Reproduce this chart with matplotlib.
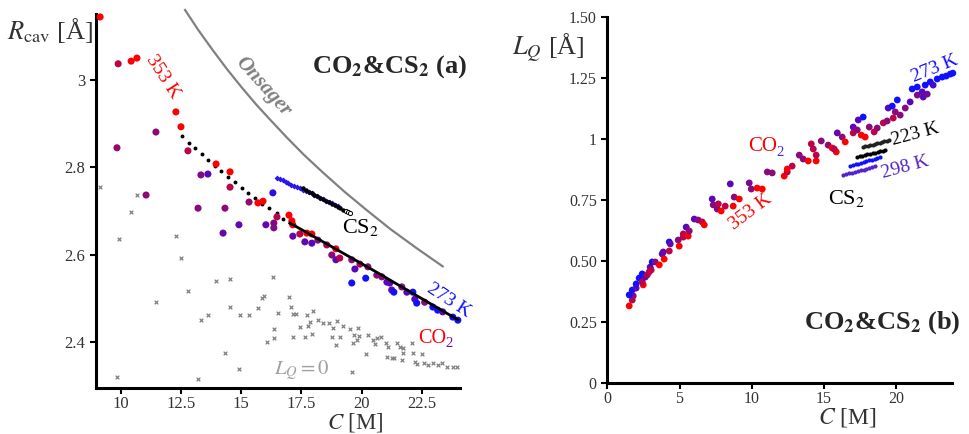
import numpy as np
import matplotlib
matplotlib.use("Agg")
import matplotlib.pyplot as plt
from matplotlib.colors import LinearSegmentedColormap

plt.rcParams['font.family'] = 'serif'
plt.rcParams['font.serif'] = ['Liberation Serif', 'DejaVu Serif']
plt.rcParams['mathtext.fontset'] = 'stix'

# temperature colour scale: 353 K (red) -> 273 K (blue)
temp_cmap = LinearSegmentedColormap.from_list(
    'temp', ['#ff0000', '#c8003c', '#8a0a78', '#5a08b8', '#1010ff'])

# ---- panel (a): cavity radius vs concentration ----
co2_c_a = [9.13, 9.88, 10.42, 10.66, 12.28, 12.49, 11.45, 9.83, 12.78, 13.95, 14.53, 13.32, 13.61,
           14.53, 11.04, 13.20, 14.32, 15.32, 15.69, 15.90, 16.31, 14.24, 14.90, 16.02, 16.35, 16.35,
           16.48, 16.98, 17.10, 17.14, 17.14, 17.43, 17.72, 17.93, 17.64, 17.93, 18.18, 18.55, 18.93,
           18.76, 18.93, 19.09, 19.59, 19.93, 19.72, 20.26, 20.17, 19.59, 20.63, 20.84, 21.05, 21.17,
           21.25, 21.34, 21.67, 21.88, 22.13, 22.21, 22.29, 22.62, 22.96, 23.16, 23.37, 23.79, 24.00]
co2_r_a = [3.144, 3.037, 3.043, 3.050, 2.927, 2.893, 2.881, 2.845, 2.838, 2.808, 2.790, 2.783, 2.785,
           2.755, 2.737, 2.707, 2.707, 2.721, 2.719, 2.723, 2.742, 2.650, 2.669, 2.669, 2.673, 2.662,
           2.687, 2.691, 2.678, 2.669, 2.643, 2.648, 2.650, 2.648, 2.630, 2.627, 2.634, 2.623, 2.614,
           2.600, 2.589, 2.593, 2.589, 2.579, 2.568, 2.573, 2.547, 2.536, 2.554, 2.550, 2.538, 2.536,
           2.520, 2.515, 2.527, 2.515, 2.515, 2.499, 2.490, 2.492, 2.481, 2.474, 2.470, 2.458, 2.451]
co2_t_a = [0, .3, 0, 0, 0, 0, .5, .45, .3, 0, 0, .55, .75, .3, .5, .5, .5, .45, 0, 0, .9, .7, .7, .7,
           .55, .55, .3, 0, .05, 0, .7, .3, 0, 0, .7, .75, .55, .35, 0, .5, .75, .3, .5, .35, .75, .5,
           1, 1, .5, .5, .75, .75, .75, 1, .5, .75, 1, .75, 1, .5, 1, 1, .75, 1, 1]

# points with L_Q = 0
lq0_c = [9.13, 10.66, 10.42, 9.92, 12.28, 12.49, 11.45, 12.78, 13.32, 13.61, 13.95, 14.53, 14.53,
         14.32, 14.90, 13.20, 9.83, 14.94, 15.32, 15.69, 15.86, 15.94, 16.31, 16.52, 16.35, 16.35,
         16.06, 16.98, 17.06, 17.14, 17.27, 17.14, 17.64, 17.43, 17.72, 17.77, 17.85, 17.97, 17.93,
         18.18, 18.39, 18.64, 18.97, 18.80, 19.22, 19.84, 19.51, 19.09, 18.76, 18.93, 19.68, 19.88,
         19.80, 19.63, 20.26, 20.47, 20.63, 20.80, 20.55, 20.17, 21.01, 21.09, 21.05, 21.25, 21.34,
         21.46, 21.59, 21.71, 21.71, 21.67, 22.08, 22.13, 22.50, 22.21, 22.29, 22.58, 22.75, 22.96,
         23.16, 23.33, 23.54, 23.79, 23.98, 19.59]
lq0_r = [2.755, 2.737, 2.698, 2.637, 2.643, 2.593, 2.492, 2.518, 2.451, 2.463, 2.541, 2.545, 2.481,
         2.376, 2.339, 2.316, 2.321, 2.463, 2.463, 2.479, 2.502, 2.506, 2.550, 2.467, 2.431, 2.410,
         2.401, 2.504, 2.481, 2.465, 2.465, 2.412, 2.412, 2.435, 2.463, 2.438, 2.447, 2.472, 2.419,
         2.451, 2.444, 2.444, 2.449, 2.433, 2.438, 2.433, 2.431, 2.412, 2.412, 2.394, 2.417, 2.415,
         2.406, 2.399, 2.417, 2.406, 2.410, 2.412, 2.396, 2.374, 2.399, 2.390, 2.367, 2.364, 2.364,
         2.399, 2.390, 2.387, 2.376, 2.360, 2.399, 2.376, 2.374, 2.355, 2.351, 2.353, 2.348, 2.353,
         2.348, 2.353, 2.344, 2.344, 2.344, 2.333]

# fits through the 353 K and 273 K sets
fit353_c = [12.53, 12.82, 13.07, 13.36, 13.61, 13.90, 14.15, 14.44, 14.73, 15.02, 15.27, 15.56,
            15.86, 16.15, 16.48, 16.73, 17.02]
fit353_r = [2.872, 2.856, 2.845, 2.831, 2.817, 2.803, 2.792, 2.778, 2.767, 2.753, 2.742, 2.730,
            2.717, 2.707, 2.696, 2.682, 2.673]
fit273_c = [17.02, 20.55, 24.00]
fit273_r = [2.673, 2.563, 2.452]

# CS2 series
cs2_blue_c = [16.48, 16.60, 16.72, 16.84, 16.96, 17.08, 17.20, 17.32, 17.44, 17.56, 17.68, 17.80,
              17.92, 18.04, 18.16, 18.28, 18.40, 18.52, 18.64, 18.76, 18.88, 19.00]
cs2_blue_r = [2.776, 2.773, 2.771, 2.767, 2.765, 2.761, 2.758, 2.756, 2.752, 2.749, 2.747, 2.743,
              2.741, 2.737, 2.734, 2.730, 2.728, 2.724, 2.721, 2.719, 2.715, 2.712]
cs2_black_c = [17.56, 17.68, 17.80, 17.92, 18.04, 18.16, 18.28, 18.40, 18.52, 18.64, 18.76, 18.88,
               19.00, 19.12, 19.24]
cs2_black_r = [2.752, 2.749, 2.745, 2.742, 2.738, 2.735, 2.731, 2.728, 2.724, 2.721, 2.717, 2.714,
               2.710, 2.707, 2.703]
cs2_open_c = [19.33, 19.42, 19.51]
cs2_open_r = [2.700, 2.698, 2.695]

# Onsager cavity radius
onsager_c = [12.66, 13.2, 13.8, 14.4, 15.0, 15.6, 16.2, 16.9, 17.6, 18.4, 19.3, 20.2, 21.2, 22.3,
             23.37]
onsager_r = [3.160, 3.115, 3.069, 3.025, 2.984, 2.945, 2.909, 2.868, 2.829, 2.788, 2.744, 2.703,
             2.659, 2.615, 2.574]

# ---- panel (b): L_Q vs concentration ----
co2_c_b = [1.52, 1.73, 1.80, 1.52, 1.73, 2.00, 2.00, 2.21, 2.49, 2.42, 2.42, 2.63, 2.77, 2.90, 2.97,
           3.11, 3.04, 3.32, 3.60, 3.80, 3.87, 3.94, 4.29, 4.29, 4.36, 4.91, 4.98, 5.26, 5.26, 5.60,
           5.46, 5.67, 6.02, 6.29, 6.57, 6.71, 7.26, 7.33, 7.61, 7.68, 7.88, 8.16, 8.51, 8.71, 8.78,
           9.13, 9.82, 9.96, 10.37, 10.72, 11.07, 11.41, 12.24, 12.45, 12.45, 12.79, 13.28, 13.55,
           13.90, 14.45, 14.45, 14.80, 14.11, 14.25, 15.28, 15.56, 15.84, 15.70, 15.91, 16.25, 16.46,
           17.01, 17.01, 17.29, 17.57, 17.84, 17.36, 17.70, 18.12, 18.67, 18.46, 19.09, 19.36, 19.43,
           19.71, 19.92, 20.26, 19.78, 20.61, 20.06, 20.95, 21.09, 21.44, 21.44, 21.85, 22.13, 21.99,
           22.34, 22.54, 22.82, 23.17, 23.44, 23.72, 23.90, 21.78]
co2_l_b = [0.316, 0.340, 0.357, 0.361, 0.381, 0.389, 0.406, 0.430, 0.402, 0.414, 0.447, 0.434, 0.443,
           0.455, 0.475, 0.496, 0.463, 0.496, 0.484, 0.529, 0.537, 0.508, 0.541, 0.578, 0.570, 0.586,
           0.561, 0.611, 0.598, 0.602, 0.639, 0.623, 0.672, 0.668, 0.660, 0.648, 0.754, 0.730, 0.713,
           0.734, 0.705, 0.725, 0.816, 0.725, 0.762, 0.754, 0.820, 0.795, 0.799, 0.795, 0.865, 0.861,
           0.848, 0.865, 0.877, 0.889, 0.934, 0.918, 0.910, 0.910, 0.934, 0.992, 0.980, 0.959, 0.975,
           0.963, 0.947, 0.959, 1.025, 1.008, 0.988, 1.049, 1.025, 1.037, 1.016, 1.008, 1.078, 1.090,
           1.049, 1.045, 1.029, 1.066, 1.074, 1.127, 1.135, 1.111, 1.098, 1.086, 1.127, 1.160, 1.152,
           1.205, 1.213, 1.180, 1.172, 1.184, 1.221, 1.234, 1.221, 1.246, 1.254, 1.258, 1.266, 1.270,
           1.193]
co2_t_b = [0, .3, .5, 1, 1, .7, 1, 1, 0, .3, 1, .7, .35, .3, .7, 1, .3, .55, 0, .7, .7, 0, .3, 1, .7,
           .5, 0, .3, .3, 0, .75, .5, .75, .5, .3, 0, .75, .55, .5, .3, 0, .3, .75, 0, .5, 0, .6, .5,
           0, 0, .5, .5, 0, .3, 0, .3, .5, .5, 0, 0, .3, .5, .3, .3, .5, 0, 0, .3, .7, .5, 0, .75, .3,
           .5, 0, 0, .75, 1, .5, .5, .3, .3, .5, .75, 1, .5, .5, .3, .55, 1, .75, 1, 1, .55, .75, .6,
           1, 1, .8, 1, 1, 1, 1, 1, .75]

cs2_223_c = [17.70, 17.86, 18.02, 18.18, 18.35, 18.51, 18.67, 18.84, 19.00, 19.17, 19.33, 19.50]
cs2_223_l = [0.967, 0.970, 0.972, 0.975, 0.977, 0.980, 0.982, 0.985, 0.988, 0.990, 0.993, 0.996]
cs2_248_c = [17.29, 17.47, 17.64, 17.82, 17.99, 18.17, 18.35, 18.52, 18.70, 18.88, 19.05, 19.23]
cs2_248_l = [0.926, 0.929, 0.931, 0.934, 0.937, 0.939, 0.942, 0.944, 0.947, 0.950, 0.952, 0.955]
cs2_273_c = [16.80, 16.99, 17.18, 17.37, 17.56, 17.75, 17.93, 18.12, 18.31, 18.50, 18.69, 18.88]
cs2_273_l = [0.889, 0.892, 0.896, 0.899, 0.903, 0.906, 0.909, 0.913, 0.916, 0.919, 0.923, 0.926]
cs2_298_c = [16.32, 16.52, 16.72, 16.92, 17.12, 17.32, 17.53, 17.73, 17.93, 18.13, 18.33, 18.53]
cs2_298_l = [0.852, 0.855, 0.859, 0.862, 0.865, 0.869, 0.872, 0.875, 0.879, 0.882, 0.885, 0.889]

fig = plt.figure(figsize=(9.7, 4.34), dpi=100)
ax1 = fig.add_axes([0.099, 0.106, 0.375, 0.862])
ax2 = fig.add_axes([0.626, 0.1175, 0.3557, 0.8433])

for ax in (ax1, ax2):
    for s in ('top', 'right'):
        ax.spines[s].set_visible(False)
    for s in ('left', 'bottom'):
        ax.spines[s].set_linewidth(2.2)
    ax.tick_params(direction='out', length=4, width=1.5, labelcolor='#333333')
    ax.tick_params(axis='x', pad=2)

violet = '#5522cc'
purple = '#7010a0'

# panel (a)
ax1.plot(onsager_c, onsager_r, color='#808080', lw=1.6, clip_on=False)
ax1.scatter(lq0_c, lq0_r, marker='x', s=7, color='#808080', linewidths=0.9)
ax1.plot(fit353_c, fit353_r, ls='none', marker='o', ms=1.8, color='black')
ax1.scatter(co2_c_a, co2_r_a, c=co2_t_a, cmap=temp_cmap, vmin=0, vmax=1, s=26,
            edgecolors='none', zorder=3, clip_on=False)
ax1.plot(fit273_c, fit273_r, color='black', lw=2, zorder=4)
ax1.plot(cs2_blue_c, cs2_blue_r, ls='none', marker='D', ms=3, color='#2a18e8', mec='none', zorder=3)
ax1.plot(cs2_black_c, cs2_black_r, ls='none', marker='o', ms=2.2, color='black', zorder=4)
ax1.plot(cs2_open_c, cs2_open_r, ls='none', marker='o', ms=3, mfc='white', mec='black',
         mew=0.7, zorder=4)

ax1.set_xlim(8.96, 24.08)
ax1.set_ylim(2.296, 3.151)
ax1.set_xticks([10, 12.5, 15, 17.5, 20, 22.5])
ax1.set_xticklabels(['10', '12.5', '15', '17.5', '20', '22.5'], fontsize=12)
ax1.set_yticks([2.4, 2.6, 2.8, 3.0])
ax1.set_yticklabels(['2.4', '2.6', '2.8', '3'], fontsize=12)

ax1.text(21.17, 3.03, r'CO$_\mathbf{2}$&CS$_\mathbf{2}$ (a)', fontsize=19, fontweight='bold',
         color='#262626', ha='center', va='center')
ax1.text(15.9, 2.985, 'Onsager', fontsize=15, fontstyle='italic', fontweight='bold',
         color='#808080', rotation=-48, ha='center', va='center')
ax1.text(11.74, 3.007, '353 K', fontsize=14, color='red', rotation=-57, ha='center', va='center')
ax1.text(23.62, 2.497, '273 K', fontsize=14, color='#1010ff', rotation=-33, ha='center',
         va='center')
ax1.text(19.97, 2.662, r'CS$_2$', fontsize=16, color='black', ha='center', va='center')
ax1.text(22.33, 2.410, 'CO', fontsize=14.5, color='red', ha='left', va='center')
ax1.text(23.5, 2.398, '2', fontsize=10.5, color=purple, ha='left', va='center')
ax1.text(17.52, 2.337, r'$L_Q=0$', fontsize=15, color='#a0a0a0', ha='center', va='center')

# panel (b)
ax2.scatter(co2_c_b, co2_l_b, c=co2_t_b, cmap=temp_cmap, vmin=0, vmax=1, s=24,
            edgecolors='none', zorder=3, clip_on=False)
ax2.plot(cs2_298_c, cs2_298_l, ls='none', marker='o', ms=3, color=violet, mec='none')
ax2.plot(cs2_273_c, cs2_273_l, ls='none', marker='o', ms=3, color='#1010ff', mec='none')
ax2.plot(cs2_248_c, cs2_248_l, ls='none', marker='o', ms=3, color='black', mec='none')
ax2.plot(cs2_223_c, cs2_223_l, ls='none', marker='o', ms=3, color='#222222', mec='none')

ax2.set_xlim(0, 23.86)
ax2.set_ylim(0, 1.5)
ax2.set_xticks([0, 5, 10, 15, 20])
ax2.set_xticklabels(['0', '5', '10', '15', '20'], fontsize=11.5)
ax2.set_yticks([0, 0.25, 0.5, 0.75, 1, 1.25, 1.5])
ax2.set_yticklabels(['0', '0.25', '0.50', '0.75', '1', '1.25', '1.50'], fontsize=11.5)

ax2.text(19.02, 0.246, r'CO$_\mathbf{2}$&CS$_\mathbf{2}$ (b)', fontsize=19, fontweight='bold',
         color='#262626', ha='center', va='center')
ax2.text(22.68, 1.287, '273 K', fontsize=14, color='#1010ff', rotation=22, ha='center',
         va='center')
ax2.text(21.30, 1.020, '223 K', fontsize=14, color='black', rotation=15, ha='center',
         va='center')
ax2.text(20.61, 0.885, '298 K', fontsize=14, color=violet, rotation=15, ha='center',
         va='center')
ax2.text(9.89, 0.701, '353 K', fontsize=14, color='red', rotation=37, ha='center', va='center')
ax2.text(16.53, 0.758, r'CS$_2$', fontsize=16, color='black', ha='center', va='center')
ax2.text(9.75, 0.969, 'CO', fontsize=15, color='red', ha='left', va='center')
ax2.text(11.72, 0.945, '2', fontsize=10.5, color=violet, ha='left', va='center')

# axis labels
fig.text(0.052, 0.93, r'$R_{\rm cav}$ [Å]', fontsize=19, color='#333333', ha='center',
         va='center')
fig.text(0.366, 0.001, r'$C$ [M]', fontsize=16.5, color='#333333', ha='center', va='bottom')
fig.text(0.565, 0.889, r'$L_Q$ [Å]', fontsize=19, color='#333333', ha='center', va='center')
fig.text(0.874, 0.012, r'$C$ [M]', fontsize=17, color='#333333', ha='center', va='bottom')

fig.savefig('out.png', dpi=100)
